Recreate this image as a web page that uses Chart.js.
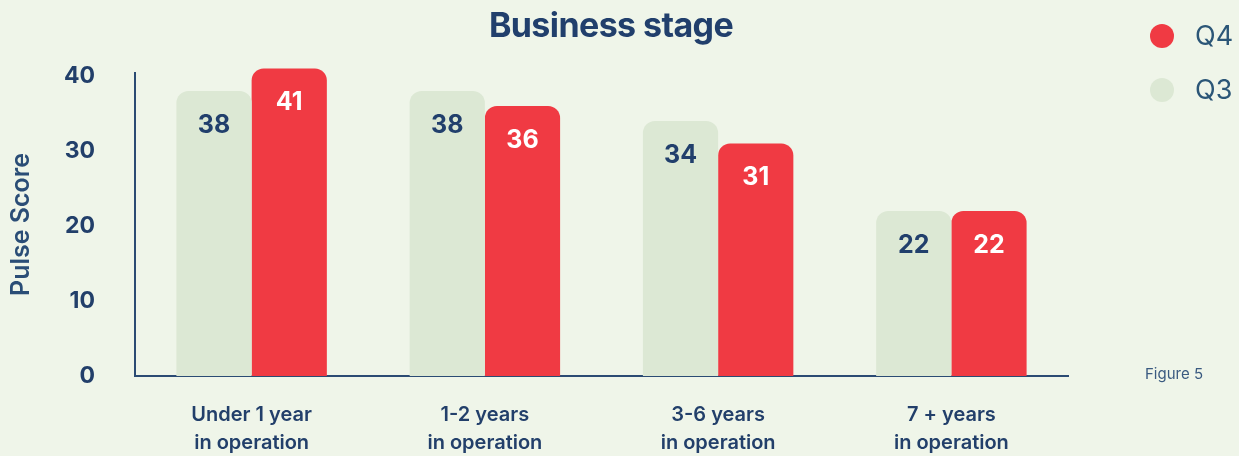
<!DOCTYPE html>
<html>
<head>
<meta charset="utf-8">
<script src="https://cdn.jsdelivr.net/npm/chart.js@4/dist/chart.umd.min.js"></script>
<style>
  html, body { margin: 0; padding: 0; background: #eff5e9; }
  #wrap { position: relative; width: 1239px; height: 456px; background: #eff5e9; overflow: hidden; font-family: Inter, "Noto Sans", sans-serif; }
  #chart { position: absolute; left: 0; top: 0; }
  #title { position: absolute; left: 0; width: 1222px; top: 4px; text-align: center; font-size: 34px; font-weight: 700; color: #213f6c; letter-spacing: -0.6px; }
  .leg { position: absolute; left: 1150px; display: flex; align-items: center; font-size: 27px; color: #2b5677; }
  .leg .dot { width: 24px; height: 24px; border-radius: 50%; margin-right: 21px; }
  #fig { position: absolute; left: 1145px; top: 364px; font-size: 15px; color: #3a5a80; }
</style>
</head>
<body>
<div id="wrap">
  <canvas id="chart" width="1239" height="456"></canvas>
  <div id="title"></div>
  <div id="legend"></div>
  <div id="fig">Figure 5</div>
</div>
<script>
const chartTitle = "Business stage";
const categories = [["Under 1 year", "in operation"], ["1-2 years", "in operation"], ["3-6 years", "in operation"], ["7 + years", "in operation"]];
const seriesNames = ["Q3", "Q4"];
const q3Values = [38, 38, 34, 22];
const q4Values = [41, 36, 31, 22];
const yTicks = [0, 10, 20, 30, 40];
const yAxisTitle = "Pulse Score";

const colors = { Q3: "#dce8d4", Q4: "#f03a43" };
const labelColors = { Q3: "#213f6c", Q4: "#ffffff" };
const navy = "#223f6a";

document.getElementById("title").textContent = chartTitle;

// HTML legend (Q4 first, as in reference)
const legend = document.getElementById("legend");
[["Q4", 19], ["Q3", 73]].forEach(([name, top]) => {
  const d = document.createElement("div");
  d.className = "leg";
  d.style.top = top + "px";
  const dot = document.createElement("span");
  dot.className = "dot";
  dot.style.background = colors[name];
  const t = document.createElement("span");
  t.textContent = name;
  d.appendChild(dot); d.appendChild(t);
  legend.appendChild(d);
});

const valueLabels = {
  id: "valueLabels",
  afterDatasetsDraw(chart) {
    const ctx = chart.ctx;
    ctx.save();
    ctx.font = "700 25px Inter, 'Noto Sans', sans-serif";
    ctx.textAlign = "center";
    ctx.textBaseline = "middle";
    chart.data.datasets.forEach((ds, i) => {
      const meta = chart.getDatasetMeta(i);
      meta.data.forEach((bar, j) => {
        ctx.fillStyle = labelColors[ds.label];
        ctx.fillText(String(ds.data[j]), bar.x, bar.y + 34);
      });
    });
    ctx.restore();
  }
};

new Chart(document.getElementById("chart"), {
  type: "bar",
  data: {
    labels: categories,
    datasets: [
      { label: seriesNames[0], data: q3Values, backgroundColor: colors.Q3, borderRadius: 12, borderSkipped: "bottom", clip: false },
      { label: seriesNames[1], data: q4Values, backgroundColor: colors.Q4, borderRadius: 12, borderSkipped: "bottom", clip: false }
    ]
  },
  options: {
    responsive: false,
    animation: false,
    devicePixelRatio: 1,
    layout: { padding: { left: 0, right: 171, top: 73, bottom: 0 } },
    plugins: { legend: { display: false }, title: { display: false }, tooltip: { enabled: false } },
    datasets: { bar: { categoryPercentage: 0.645, barPercentage: 1.0 } },
    scales: {
      x: {
        grid: { display: false },
        border: { display: true, color: "#2b4b73", width: 2 },
        ticks: {
          color: navy,
          padding: 17,
          maxRotation: 0,
          autoSkip: false,
          font: { family: "Inter, 'Noto Sans', sans-serif", size: 20, weight: 600, lineHeight: 1.4 }
        },
        afterFit(scale) { scale.height = 80; }
      },
      y: {
        min: 0,
        max: 40.4,
        grid: { display: false },
        border: { display: true, color: "#2b4b73", width: 2 },
        afterBuildTicks(scale) { scale.ticks = yTicks.map(v => ({ value: v })); },
        ticks: {
          color: navy,
          padding: 32,
          font: { family: "Inter, 'Noto Sans', sans-serif", size: 23, weight: 700 }
        },
        title: {
          display: true,
          text: yAxisTitle,
          color: "#2a4d76",
          padding: { top: 6, bottom: 0 },
          font: { family: "Inter, 'Noto Sans', sans-serif", size: 25, weight: 600 }
        },
        afterFit(scale) { scale.width = 135; }
      }
    }
  },
  plugins: [valueLabels]
});
</script>
</body>
</html>
